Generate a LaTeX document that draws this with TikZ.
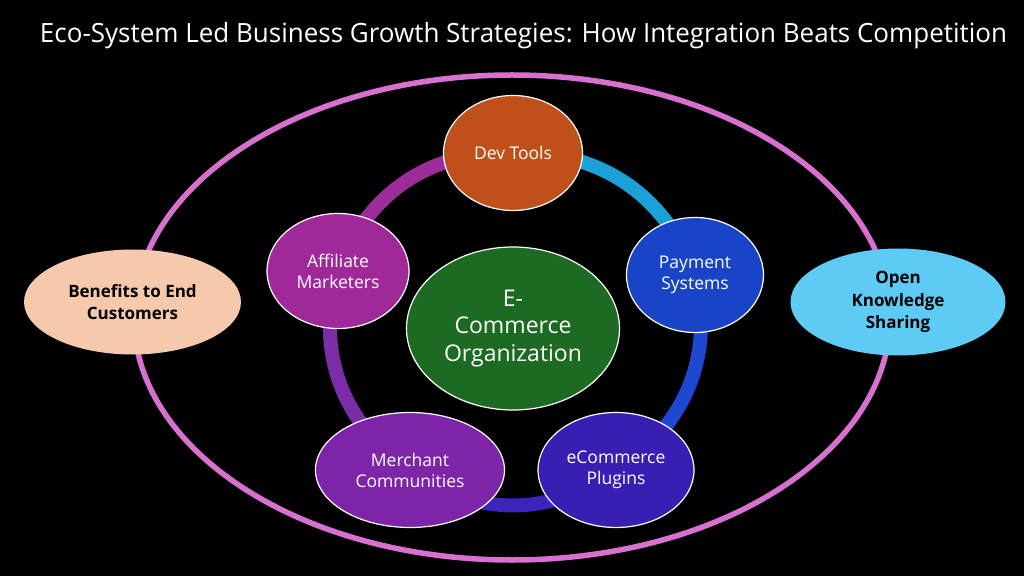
\documentclass[tikz,border=0pt]{standalone}
\usepackage{fontspec}
\setmainfont{Open Sans}
\usetikzlibrary{shapes.geometric}
\pgfdeclarelayer{back}
\pgfdeclarelayer{ring}
\pgfsetlayers{back,ring,main}
\definecolor{devC}{HTML}{C0501A}
\definecolor{payC}{HTML}{1A44C8}
\definecolor{plugC}{HTML}{3A1EB4}
\definecolor{merchC}{HTML}{7E24A8}
\definecolor{affC}{HTML}{A0299A}
\definecolor{orgC}{HTML}{1D6B22}
\definecolor{benC}{HTML}{F6C9AC}
\definecolor{openC}{HTML}{5DCBF3}
\definecolor{outerC}{HTML}{D870CF}
\definecolor{segA}{HTML}{9B2C9A}
\definecolor{segB}{HTML}{7B2DA8}
\definecolor{segC}{HTML}{3A24BE}
\definecolor{segD}{HTML}{1F48D0}
\definecolor{segE}{HTML}{1CA0D8}
\begin{document}
\begin{tikzpicture}[x=1pt,y=1pt, line join=round,
	ringnode/.style={ellipse, draw=white, line width=1.2pt, inner sep=0pt, text=white, align=center,
		font=\fontsize{17.5}{21}\selectfont},
	sidenode/.style={ellipse, inner sep=0pt, text=black, align=center,
		font=\fontsize{17}{22.5}\selectfont\bfseries},
	ringseg/.style={line width=14pt, bend right=36}]
	\def\W{1024} \def\H{576}
	
	\begin{pgfonlayer}{back}
		\fill[black] (0,0) rectangle (\W,\H);
	\end{pgfonlayer}
	
	\node (title) at (523.5,533) [anchor=base, text=white]{\resizebox{967pt}{\height}{\fontsize{26.5}{30}\selectfont Eco-System Led Business Growth Strategies: How Integration Beats Competition}};
	
	\draw[outerC, line width=5.5pt] (512,258.5) ellipse [x radius=378, y radius=242.5];
	
	\node (org) at (513,247.5) [ringnode, fill=orgC, minimum width=213, minimum height=163,
		font=\fontsize{23}{27.5}\selectfont]{E-\\Commerce\\Organization};
	\node (dev) at (513,423) [ringnode, fill=devC, minimum width=139, minimum height=115]{Dev Tools};
	\node (pay) at (695,301) [ringnode, fill=payC, minimum width=137, minimum height=115]{Payment\\Systems};
	\node (plug) at (616,106) [ringnode, fill=plugC, minimum width=156, minimum height=115]{eCommerce\\Plugins};
	\node (merch) at (410,106) [ringnode, fill=merchC, minimum width=189, minimum height=115]{Merchant\\Communities};
	\node (aff) at (338,305) [ringnode, fill=affC, minimum width=142, minimum height=115]{Affiliate\\Marketers};
	
	\node (ben) at (132.5,274) [sidenode, fill=benC, minimum width=217, minimum height=105]{Benefits to End\\Customers};
	\node (open) at (898,274) [sidenode, fill=openC, minimum width=215, minimum height=107]{Open\\Knowledge\\Sharing};
	
	\begin{pgfonlayer}{ring}
		\draw[ringseg, segA] (dev.center) to (aff.center);
		\draw[ringseg, segB] (aff.center) to (merch.center);
		\draw[ringseg, segC] (merch.center) to (plug.center);
		\draw[ringseg, segD] (plug.center) to (pay.center);
		\draw[ringseg, segE] (pay.center) to (dev.center);
	\end{pgfonlayer}
\end{tikzpicture}
\end{document}
